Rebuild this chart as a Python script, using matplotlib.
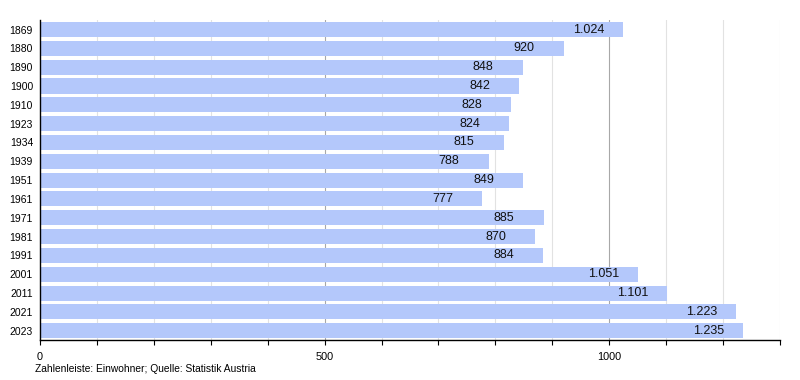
import matplotlib
matplotlib.use("Agg")
import matplotlib.pyplot as plt
from matplotlib.ticker import MultipleLocator, FixedLocator

years = ["1869", "1880", "1890", "1900", "1910", "1923", "1934", "1939", "1951",
         "1961", "1971", "1981", "1991", "2001", "2011", "2021", "2023"]
population = [1024, 920, 848, 842, 828, 824, 815, 788, 849, 777, 885, 870, 884,
              1051, 1101, 1223, 1235]
major_ticks = [0, 500, 1000]
source_text = "Zahlenleiste: Einwohner; Quelle: Statistik Austria"

plt.rcParams['font.family'] = ['Liberation Sans', 'DejaVu Sans']

fig = plt.figure(figsize=(8, 3.8), dpi=100)
ax = fig.add_axes([0.05, 0.105, 0.925, 0.842])

ypos = list(range(len(years)))
ax.barh(ypos, population, height=0.8, color="#b4c8fb", zorder=2)

ax.set_ylim(len(years) - 0.5, -0.5)
ax.set_xlim(0, 1300)

# grid
for v in range(100, 1301, 100):
    col = "#a8a8a8" if v % 500 == 0 else "#e2e2e2"
    ax.axvline(v, color=col, lw=0.8, zorder=1)

ax.set_yticks(ypos)
ax.set_yticklabels(years, fontsize=7.5)
ax.tick_params(axis='y', length=0, pad=5)

ax.xaxis.set_major_locator(FixedLocator(major_ticks))
ax.xaxis.set_minor_locator(MultipleLocator(100))
ax.tick_params(axis='x', which='both', direction='out', length=3.5, width=0.8,
               labelsize=7.8, pad=5)

for s in ['top', 'right']:
    ax.spines[s].set_visible(False)
for s in ['left', 'bottom']:
    ax.spines[s].set_color('black')
    ax.spines[s].set_linewidth(1.0)

def fmt(v):
    return f"{v:,}".replace(",", ".")

for y, v in zip(ypos, population):
    ax.annotate(fmt(v), xy=(v, y), xytext=(-36, 0), textcoords='offset points',
                ha='left', va='center', fontsize=9, color='#111111', zorder=3)

fig.text(35 / 800, 1 - 369 / 380, source_text, fontsize=7.4, ha='left', va='center')

fig.savefig("out.png", dpi=100)
